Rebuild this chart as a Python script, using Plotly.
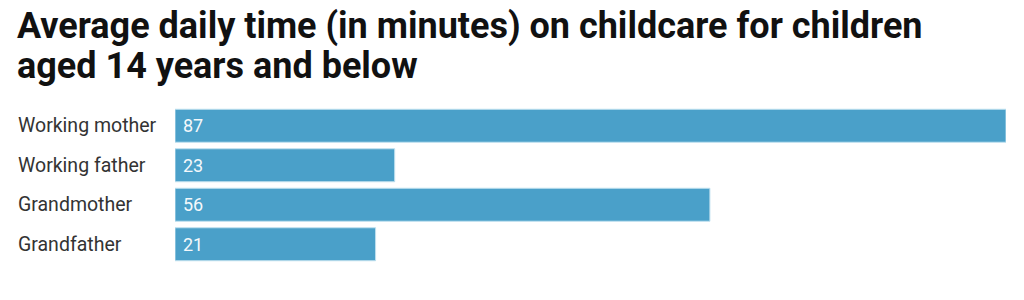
import plotly.graph_objects as go

categories = ["Working mother", "Working father", "Grandmother", "Grandfather"]
minutes = [87, 23, 56, 21]
title_lines = ["Average daily time (in minutes) on childcare for children",
               "aged 14 years and below"]

BAR = "#4aa0c9"
L, R, T, B = 175, 18, 106, 36
W, H = 1024, 300
plot_w = W - L - R
plot_h = H - T - B

fig = go.Figure(go.Bar(
    x=minutes, y=categories, orientation="h",
    marker=dict(color=BAR, line=dict(color="#bfe0ef", width=1)),
    hoverinfo="skip",
))

for c, v in zip(categories, minutes):
    fig.add_annotation(x=(16 - L) / plot_w, xref="paper", xanchor="left",
                       y=c, yref="y", text=c, showarrow=False,
                       font=dict(family="Roboto", size=19.5, color="#333333"))
    fig.add_annotation(x=0, xref="x", xanchor="left", xshift=6,
                       y=c, yref="y", text=str(v), showarrow=False,
                       font=dict(family="Roboto", size=18, color="#f4f8fb"))

for i, line in enumerate(title_lines):
    top_px = 3 + 40 * i
    fig.add_annotation(x=(15 - L) / plot_w, xref="paper", xanchor="left",
                       y=(H - B - top_px) / plot_h, yref="paper", yanchor="top",
                       text=line, showarrow=False, align="left",
                       font=dict(family="Roboto", size=36, color="#111111", weight="bold"))

fig.update_layout(
    width=W, height=H,
    margin=dict(l=L, r=R, t=T, b=B),
    paper_bgcolor="white", plot_bgcolor="white",
    bargap=0.165,
    showlegend=False,
    xaxis=dict(range=[0, 87], visible=False, fixedrange=True),
    yaxis=dict(autorange="reversed", showticklabels=False, showgrid=False,
               zeroline=False, fixedrange=True),
)

fig.write_html("out.html", config=dict(displayModeBar=False))
